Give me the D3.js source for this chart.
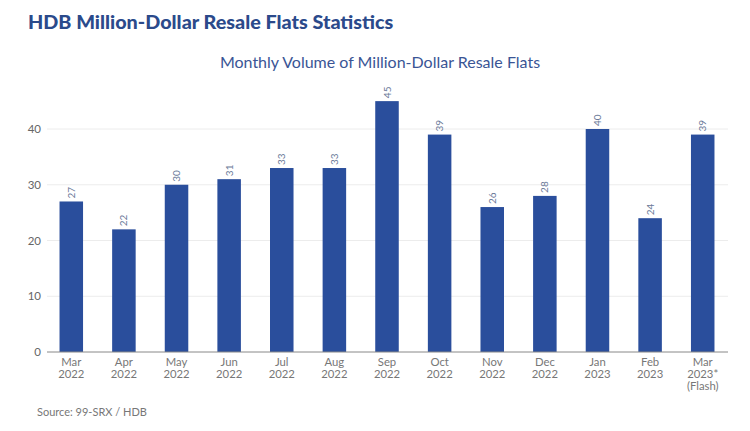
<!DOCTYPE html>
<html><head><meta charset="utf-8">
<script src="https://cdn.jsdelivr.net/npm/d3@7"></script>
<style>body{margin:0;background:#fff}svg{display:block}</style>
</head><body>
<svg id="c" width="750" height="431"></svg>
<script>
const months = ["Mar","Apr","May","Jun","Jul","Aug","Sep","Oct","Nov","Dec","Jan","Feb","Mar"];
const years = ["2022","2022","2022","2022","2022","2022","2022","2022","2022","2022","2023","2023","2023*"];
const notes = ["","","","","","","","","","","","","(Flash)"];
const values = [27,22,30,31,33,33,45,39,26,28,40,24,39];
const yTicks = [0,10,20,30,40];

const svg = d3.select("#c");
const font = "Lato, 'Open Sans', sans-serif";
const blue = "#2a4e9c";

const x = d3.scaleBand().domain(d3.range(values.length)).range([45, 729]).paddingInner(0.553).paddingOuter(0.276);
const y = d3.scaleLinear().domain([0, 40]).range([352, 129]);

svg.append("text").attr("x", 28).attr("y", 29).text("HDB Million-Dollar Resale Flats Statistics")
  .attr("font-family", font).attr("font-weight", 900).attr("font-size", 19.8).attr("fill", "#2b4a8b");
svg.append("text").attr("x", 380).attr("y", 68).attr("text-anchor", "middle")
  .text("Monthly Volume of Million-Dollar Resale Flats")
  .attr("font-family", font).attr("font-size", 16).attr("fill", "#3a5595");

// grid
svg.append("g").selectAll("line").data(yTicks.filter(d => d > 0)).join("line")
  .attr("x1", 47).attr("x2", 728).attr("y1", d => y(d)).attr("y2", d => y(d))
  .attr("stroke", "#ececec").attr("stroke-width", 1);

// y axis
const ya = svg.append("g").attr("transform", "translate(47,0)")
  .call(d3.axisLeft(y).tickValues(yTicks).tickSize(0).tickPadding(6));
ya.select(".domain").remove();
ya.selectAll("text").attr("font-family", font).attr("font-size", 11.5).attr("fill", "#666");

// bars
svg.append("g").selectAll("rect").data(values).join("rect")
  .attr("x", (d, i) => x(i)).attr("width", x.bandwidth())
  .attr("y", d => y(d)).attr("height", d => y(0) - y(d))
  .attr("fill", blue);

// value labels
svg.append("g").selectAll("text").data(values).join("text")
  .attr("transform", (d, i) => `translate(${x(i) + x.bandwidth() / 2 + 3.5},${y(d) - 3}) rotate(-90)`)
  .text(d => d).attr("font-family", font).attr("font-size", 10).attr("fill", "#6b7a99");

// x axis line
svg.append("line").attr("x1", 47).attr("x2", 728).attr("y1", y(0)).attr("y2", y(0))
  .attr("stroke", "#888").attr("stroke-width", 1);

// x labels
const xl = svg.append("g").selectAll("text").data(values).join("text")
  .attr("text-anchor", "middle").attr("font-family", font).attr("font-size", 11.3).attr("fill", "#777");
xl.append("tspan").attr("x", (d, i) => x(i) + x.bandwidth() / 2).attr("y", 366).text((d, i) => months[i]);
xl.append("tspan").attr("x", (d, i) => x(i) + x.bandwidth() / 2).attr("y", 378).text((d, i) => years[i]);
xl.append("tspan").attr("x", (d, i) => x(i) + x.bandwidth() / 2).attr("y", 390).text((d, i) => notes[i]);

svg.append("text").attr("x", 37).attr("y", 416).text("Source: 99-SRX / HDB")
  .attr("font-family", font).attr("font-size", 11).attr("fill", "#777");
</script>
</body></html>
